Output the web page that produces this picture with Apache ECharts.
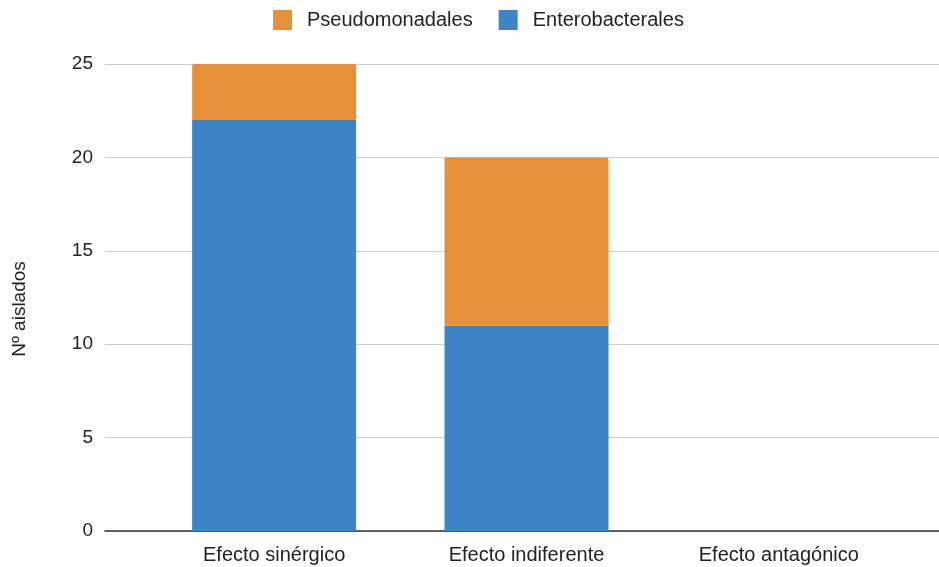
<!DOCTYPE html>
<html>
<head>
<meta charset="utf-8">
<script src="https://cdn.jsdelivr.net/npm/echarts@6/dist/echarts.min.js"></script>
<style>
  html, body { margin: 0; padding: 0; background: #fff; }
  #chart { width: 939px; height: 567px; }
</style>
</head>
<body>
<div id="chart"></div>
<script>
// Number of isolates per combination effect, stacked by order
const categories = ['Efecto sinérgico', 'Efecto indiferente', 'Efecto antagónico'];
const enterobacterales = [22, 11, 0];
const pseudomonadales = [3, 9, 0];
const yTicks = { min: 0, max: 25, interval: 5 };

const FONT = 'Arial, "Liberation Sans", sans-serif';
const ORANGE = '#e69138';
const BLUE = '#3d85c6';

const chart = echarts.init(document.getElementById('chart'), null, { renderer: 'canvas' });

chart.setOption({
  backgroundColor: '#ffffff',
  animation: false,
  textStyle: { fontFamily: FONT },
  legend: {
    data: ['Pseudomonadales', 'Enterobacterales'],
    left: 273,
    top: 10,
    padding: 0,
    itemWidth: 19,
    itemHeight: 20,
    itemGap: 26,
    icon: 'rect',
    textStyle: { fontSize: 20, color: '#222', fontFamily: FONT, padding: [0, 0, 0, 10] }
  },
  graphic: [{
    type: 'text',
    rotation: Math.PI / 2,
    x: 20,
    y: 309,
    style: {
      text: 'Nº aislados',
      fontSize: 19,
      fontFamily: FONT,
      fill: '#222',
      textAlign: 'center',
      textVerticalAlign: 'middle'
    }
  }],
  grid: [
    // full-width grid carrying the value scale, gridlines and baseline
    { left: 105, right: 0, top: 64, bottom: 36 },
    // grid holding the category bands and bars
    { left: 148, right: 34, top: 64, bottom: 36 }
  ],
  xAxis: [
    {
      gridIndex: 0, type: 'value', min: 0, max: 1,
      axisLine: { show: true, onZero: false, lineStyle: { color: '#333', width: 1.5 } },
      axisTick: { show: false }, axisLabel: { show: false }, splitLine: { show: false }
    },
    {
      gridIndex: 1, type: 'category', data: categories,
      axisLine: { show: false }, axisTick: { show: false },
      axisLabel: { fontSize: 20, color: '#222', margin: 14, fontFamily: FONT }
    }
  ],
  yAxis: [
    {
      gridIndex: 0, type: 'value', min: yTicks.min, max: yTicks.max, interval: yTicks.interval,
      axisLine: { show: false }, axisTick: { show: false },
      axisLabel: { fontSize: 19, color: '#222', margin: 12, fontFamily: FONT },
      splitLine: { lineStyle: { color: '#cccccc', width: 1 } }
    },
    {
      gridIndex: 1, type: 'value', min: yTicks.min, max: yTicks.max, interval: yTicks.interval,
      show: false, splitLine: { show: false }
    }
  ],
  series: [
    {
      name: 'Enterobacterales', type: 'bar', stack: 'total',
      xAxisIndex: 1, yAxisIndex: 1,
      data: enterobacterales, barWidth: 164,
      itemStyle: { color: BLUE }
    },
    {
      name: 'Pseudomonadales', type: 'bar', stack: 'total',
      xAxisIndex: 1, yAxisIndex: 1,
      data: pseudomonadales, barWidth: 164,
      itemStyle: { color: ORANGE, borderRadius: [2, 2, 0, 0] }
    }
  ]
});
</script>
</body>
</html>
